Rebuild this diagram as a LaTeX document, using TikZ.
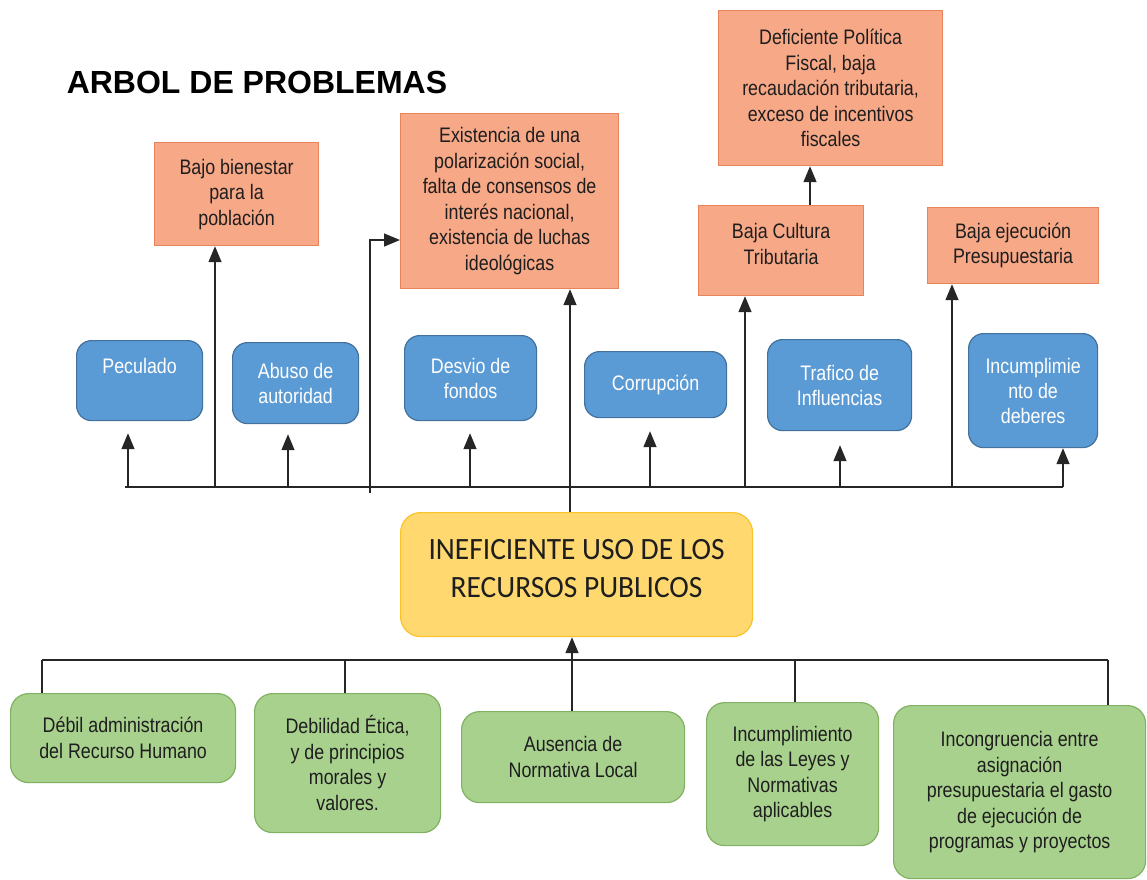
\documentclass[tikz,border=0pt]{standalone}
\usepackage{fontspec}
\setmainfont{Liberation Sans}
\newfontfamily\narrowf[FakeStretch=0.85]{Liberation Sans}
\newfontfamily\calib[FakeStretch=0.95]{Carlito}
\usetikzlibrary{arrows.meta}
\definecolor{orfill}{RGB}{247,168,135}
\definecolor{ordraw}{RGB}{232,132,92}
\definecolor{blfill}{RGB}{91,155,213}
\definecolor{bldraw}{RGB}{65,113,156}
\definecolor{yefill}{RGB}{255,216,112}
\definecolor{yedraw}{RGB}{250,195,40}
\definecolor{grfill}{RGB}{169,209,142}
\definecolor{grdraw}{RGB}{128,178,98}
\definecolor{txt}{RGB}{30,30,30}
\tikzset{
  boxbase/.style={anchor=north west, inner sep=2pt, align=center, line width=1.2pt,
    font=\narrowf\fontsize{21}{25.5}\selectfont, text=txt},
  obox/.style={boxbase, draw=ordraw, fill=orfill},
  bbox/.style={boxbase, draw=bldraw, fill=blfill, rounded corners=15pt, text=white,
    font=\narrowf\fontsize{21}{25}\selectfont},
  gbox/.style={boxbase, draw=grdraw, fill=grfill, rounded corners=18pt},
  ybox/.style={boxbase, draw=yedraw, fill=yefill, rounded corners=20pt,
    font=\calib\fontsize{31}{38}\selectfont},
  conn/.style={line width=1.4pt, draw=black!85},
  arr/.style={conn, -{Triangle[length=16pt,width=13pt]}},
}
\begin{document}
\begin{tikzpicture}[x=1pt,y=-1pt]
\useasboundingbox (0,0) rectangle (1147,879);

\node[anchor=center, font=\bfseries\fontsize{32}{36}\selectfont] (title) at (257,82) {ARBOL DE PROBLEMAS};

% effects (orange)
\node[obox, minimum width=164, minimum height=103] (bb) at (154,142) {Bajo bienestar\\para la\\población};
\node[obox, minimum width=218, minimum height=175] (ex) at (400,113) {Existencia de una\\polarización social,\\falta de consensos de\\interés nacional,\\existencia de luchas\\ideológicas};
\node[obox, minimum width=224, minimum height=155] (df) at (718,10) {Deficiente Política\\Fiscal, baja\\recaudación tributaria,\\exceso de incentivos\\fiscales};
\node[obox, minimum width=165, minimum height=90] (bc) at (698,205) {Baja Cultura\\Tributaria\\[-12pt]};
\node[obox, minimum width=171, minimum height=76] (be) at (927,207) {Baja ejecución\\Presupuestaria};

% blue
\node[bbox, minimum width=126, minimum height=80] (pe) at (76,340) {Peculado\\[4pt]};
\node[bbox, minimum width=126, minimum height=81] (ab) at (232,342) {Abuso de\\autoridad};
\node[bbox, minimum width=132, minimum height=85] (de) at (404,335) {Desvio de\\fondos};
\node[bbox, minimum width=142, minimum height=66] (co) at (584,351) {Corrupción};
\node[bbox, minimum width=144, minimum height=91] (tr) at (767,339) {Trafico de\\Influencias};
\node[bbox, minimum width=129, minimum height=114] (in) at (968,333) {Incumplimie\\nto de\\deberes};

% central problem
\node[ybox, minimum width=352, minimum height=124] (cp) at (400,512) {INEFICIENTE USO DE LOS\\RECURSOS PUBLICOS\\[-25pt]};

% causes (green)
\node[gbox, minimum width=225, minimum height=89] (g1) at (10,693) {Débil administración\\del Recurso Humano};
\node[gbox, minimum width=186, minimum height=139] (g2) at (254,693) {Debilidad Ética,\\y de principios\\morales y\\valores.};
\node[gbox, minimum width=223, minimum height=91] (g3) at (461,711) {Ausencia de\\Normativa Local};
\node[gbox, minimum width=172, minimum height=143] (g4) at (706,702) {Incumplimiento\\de las Leyes y\\Normativas\\aplicables};
\node[gbox, minimum width=252, minimum height=173] (g5) at (893,705) {Incongruencia entre\\asignación\\presupuestaria el gasto\\de ejecución de\\programas y proyectos};

% upper bus
\coordinate (ubL) at (125,487);
\coordinate (ubR) at (1063,487);
\coordinate (u1) at (128,487);
\coordinate (u2) at (215,487);
\coordinate (u3) at (288,487);
\coordinate (u4) at (370,493);
\coordinate (u4t) at (370,240);
\coordinate (u5) at (470,487);
\coordinate (u6) at (570,487);
\coordinate (u7) at (650,487);
\coordinate (u8) at (745,487);
\coordinate (u9) at (840,487);
\coordinate (u10) at (952,487);

\draw[conn] (ubL) -- (ubR);
\draw[arr, shorten >=12pt] (u1) -- (u1 |- pe.south);
\draw[arr] (u2) -- (u2 |- bb.south);
\draw[arr, shorten >=10pt] (u3) -- (u3 |- ab.south);
\draw[arr] (u4) -- (u4t) -- (u4t -| ex.west);
\draw[arr, shorten >=12pt] (u5) -- (u5 |- de.south);
\draw[arr] (u6) -- (u6 |- ex.south);
\draw[conn] (u6) -- (u6 |- cp.north);
\draw[arr, shorten >=13pt] (u7) -- (u7 |- co.south);
\draw[arr] (u8) -- (u8 |- bc.south);
\draw[arr, shorten >=14pt] (u9) -- (u9 |- tr.south);
\draw[arr] (u10) -- (u10 |- be.south);
\draw[arr] (ubR) -- (ubR |- in.south);

% Baja Cultura -> Deficiente
\coordinate (bcup) at (810,205);
\draw[arr] (bcup) -- (bcup |- df.south);

% lower bus
\coordinate (lbL) at (42,660);
\coordinate (lbR) at (1108,660);
\coordinate (l2) at (345,660);
\coordinate (l4) at (795,660);
\coordinate (l3) at (572,711);
\draw[conn] (lbL) -- (lbR);
\draw[conn] (lbL) -- (lbL |- g1.north);
\draw[conn] (l2) -- (l2 |- g2.north);
\draw[conn] (l4) -- (l4 |- g4.north);
\draw[conn] (lbR) -- (lbR |- g5.north);
\draw[arr] (l3) -- (l3 |- cp.south);
\end{tikzpicture}
\end{document}
